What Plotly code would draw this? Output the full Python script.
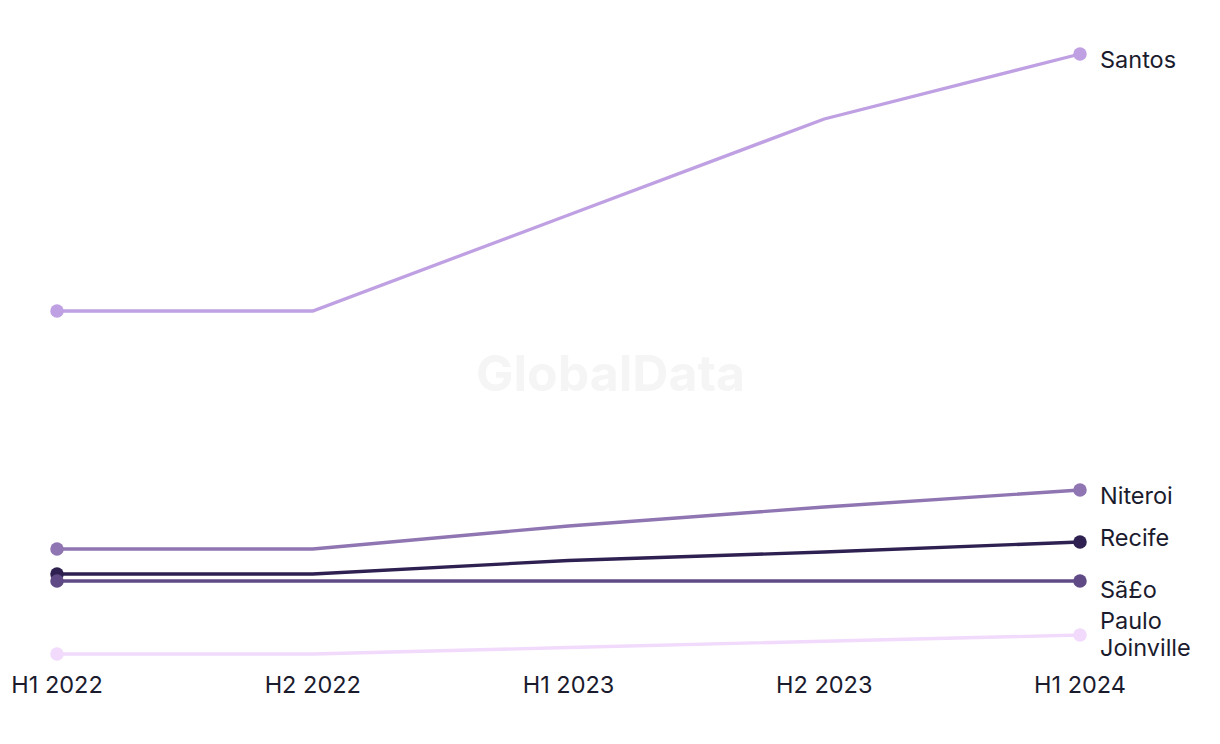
import plotly.graph_objects as go

periods = ["H1 2022", "H2 2022", "H1 2023", "H2 2023", "H1 2024"]

santos = [70.6, 70.6, 89.8, 109.0, 122.0]
niteroi = [23.0, 23.0, 27.6, 31.4, 34.8]
recife = [18.0, 18.0, 20.7, 22.4, 24.4]
sao_paulo = [16.6, 16.6, 16.6, 16.6, 16.6]
joinville = [2.0, 2.0, 3.3, 4.5, 5.8]

series = [
    ("Santos", santos, "#bfa0e2", -5),
    ("Niteroi", niteroi, "#8f75b1", -5),
    ("Recife", recife, "#2e2050", 5),
    ("Sã£o<br>Paulo", sao_paulo, "#5f4a85", -24),
    ("Joinville", joinville, "#f1dafb", -12),
]

FONT = "Inter"
TEXT = "#1b1b2e"

fig = go.Figure()
for name, vals, color, dy in series:
    n = len(vals)
    fig.add_trace(go.Scatter(
        x=list(range(n)), y=vals, mode="lines",
        line=dict(color=color, width=3.3),
        hoverinfo="skip", showlegend=False,
    ))
    fig.add_trace(go.Scatter(
        x=[0, n - 1], y=[vals[0], vals[-1]], mode="markers",
        marker=dict(size=13.5, color=color, opacity=1, line=dict(width=0)),
        hoverinfo="skip", showlegend=False,
    ))
    fig.add_annotation(
        x=n - 1, y=vals[-1], text=name, showarrow=False,
        xanchor="left", yanchor="middle", align="left",
        xshift=18, yshift=dy,
        font=dict(family=FONT, size=23.5, color=TEXT),
    )

fig.add_annotation(
    x=0.5, y=0.5, xref="paper", yref="paper", xshift=-8, yshift=-31,
    text="<b>GlobalData</b>", showarrow=False,
    font=dict(family=FONT, size=50, color="#f5f5f5"),
)

fig.update_layout(
    width=1220, height=744,
    margin=dict(l=0, r=0, t=12, b=88, autoexpand=False),
    paper_bgcolor="white", plot_bgcolor="white",
    xaxis=dict(
        range=[-0.1916, 4.5787], automargin=False,
        tickmode="array", tickvals=list(range(len(periods))), ticktext=periods,
        showgrid=False, zeroline=False, showline=False, ticks="",
        ticklabelstandoff=4,
        tickfont=dict(family=FONT, size=23.5, color=TEXT),
    ),
    yaxis=dict(range=[0, 128.8], visible=False, showgrid=False, zeroline=False),
)

fig.write_html("out.html")
